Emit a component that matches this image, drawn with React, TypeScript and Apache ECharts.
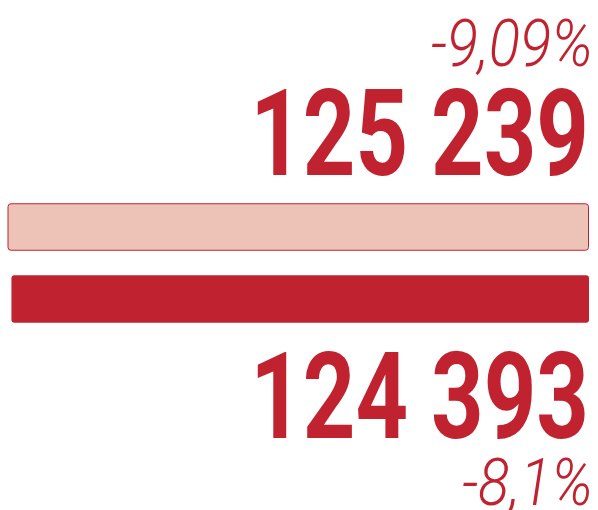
import React, { useEffect, useRef } from "react";
import * as echarts from "echarts";

const categories = ["Prior", "Current"];
const values = [125239, 124393];
const changes = ["-9,09%", "-8,1%"];

const RED = "#C0232F";
const PINK = "#EDC3B8";

const fmt = (v: number) => String(v).replace(/\B(?=(\d{3})+(?!\d))/g, " ");

export default function App() {
  const ref = useRef<HTMLDivElement>(null);
  useEffect(() => {
    if (!ref.current) return;
    const chart = echarts.init(ref.current, undefined, { renderer: "svg" });
    const bigText = (text: string, y: number) => ({
      type: "text",
      x: 589,
      y,
      scaleX: 0.765,
      style: {
        text,
        fill: RED,
        fontFamily: "Roboto",
        fontWeight: "bold",
        fontSize: 120,
        lineHeight: 100,
        align: "right",
        verticalAlign: "middle",
      },
    });
    const smallText = (text: string, y: number) => ({
      type: "text",
      x: 593,
      y,
      scaleX: 0.88,
      style: {
        text,
        fill: RED,
        fontFamily: "Roboto",
        fontWeight: 300,
        fontStyle: "italic",
        fontSize: 66,
        lineHeight: 50,
        align: "right",
        verticalAlign: "middle",
      },
    });
    chart.setOption({
      animation: false,
      grid: { left: 7.5, right: 9, top: 191, bottom: 175 },
      xAxis: {
        type: "value",
        inverse: true,
        min: 0,
        max: "dataMax",
        show: false,
      },
      yAxis: {
        type: "category",
        data: categories,
        inverse: true,
        show: false,
      },
      series: [
        {
          type: "bar",
          barWidth: 47.5,
          data: values.map((v, i) => ({
            value: v,
            itemStyle:
              i === 0
                ? { color: PINK, borderColor: RED, borderWidth: 1, borderRadius: 3 }
                : { color: RED, borderRadius: 3 },
          })),
        },
      ],
      graphic: [
        smallText(changes[0], 43),
        bigText(fmt(values[0]), 134.5),
        bigText(fmt(values[1]), 397.5),
        smallText(changes[1], 482),
      ],
    });
    return () => chart.dispose();
  }, []);
  return (
    <div
      ref={ref}
      style={{ position: "fixed", left: 0, top: 0, width: 598, height: 510, background: "#fff" }}
    />
  );
}
